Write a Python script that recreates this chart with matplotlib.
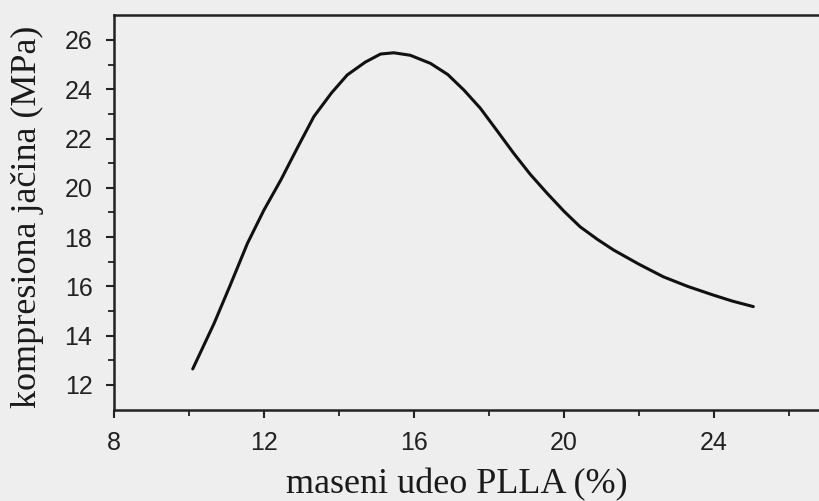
import matplotlib.pyplot as plt

# values
udeo = [10.1, 10.67, 11.1, 11.56, 12.0, 12.45, 12.9, 13.33, 13.8, 14.22, 14.7,
        15.11, 15.46, 15.9, 16.44, 16.9, 17.33, 17.77, 18.2, 18.66, 19.1, 19.55,
        20.0, 20.43, 20.9, 21.32, 22.0, 22.65, 23.3, 23.98, 24.5, 25.05]
jacina = [12.65, 14.5, 16.05, 17.75, 19.1, 20.32, 21.65, 22.89, 23.85, 24.58, 25.1,
          25.43, 25.48, 25.38, 25.05, 24.6, 23.97, 23.23, 22.35, 21.4, 20.55, 19.78,
          19.05, 18.42, 17.9, 17.48, 16.9, 16.39, 16.0, 15.65, 15.4, 15.18]

xticks = [8, 12, 16, 20, 24]
yticks = [12, 14, 16, 18, 20, 22, 24, 26]

fig = plt.figure(figsize=(8.2, 5.01), dpi=100, facecolor='#eeeeee')
ax = fig.add_axes([0.139, 0.1824, 0.9146, 0.787])
ax.set_facecolor('#eeeeee')

ax.plot(udeo, jacina, color='#111111', lw=2.2, solid_capstyle='round',
        solid_joinstyle='round')

ax.set_xlim(8, 28)
ax.set_ylim(11, 27)
ax.set_xticks(xticks)
ax.set_yticks(yticks)
ax.set_xticks([10, 14, 18, 22, 26], minor=True)
ax.set_yticks([13, 15, 17, 19, 21, 23, 25], minor=True)

for s in ax.spines.values():
    s.set_linewidth(1.8)
    s.set_color('#222222')

ax.tick_params(which='major', direction='out', length=6, width=1.5, colors='#222222',
               labelsize=18, pad=9.5)
ax.tick_params(which='minor', direction='out', length=4, width=1.3, colors='#222222')
for lab in ax.get_xticklabels() + ax.get_yticklabels():
    lab.set_family('Liberation Sans')

ax.set_xlabel('maseni udeo PLLA (%)', family='Liberation Serif', fontsize=26,
              color='#1a1a1a')
ax.set_ylabel('kompresiona jačina (MPa)', family='Liberation Serif', fontsize=26,
              color='#1a1a1a')
ax.xaxis.set_label_coords(0.457, -0.148)
ax.yaxis.set_label_coords(-0.093, 0.49)

fig.savefig('out.png', dpi=100, facecolor=fig.get_facecolor())
